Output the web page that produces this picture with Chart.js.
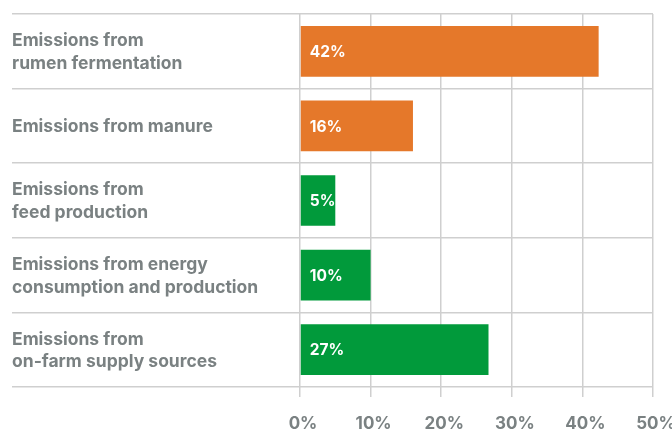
<!DOCTYPE html>
<html>
<head>
<meta charset="utf-8">
<script src="https://cdn.jsdelivr.net/npm/chart.js@4.4.1/dist/chart.umd.min.js"></script>
<style>
  html, body { margin: 0; padding: 0; background: #ffffff; }
  #wrap { width: 672px; height: 430px; position: relative; }
</style>
</head>
<body>
<div id="wrap"><canvas id="c"></canvas></div>
<script>
const categories = [
  ["Emissions from", "rumen fermentation"],
  "Emissions from manure",
  ["Emissions from", "feed production"],
  ["Emissions from energy", "consumption and production"],
  ["Emissions from", "on-farm supply sources"]
];
const shares = [42.3, 16, 5, 10, 26.7];
const valueLabels = ["42%", "16%", "5%", "10%", "27%"];
const barColors = ["#E5782A", "#E5782A", "#019A3B", "#019A3B", "#019A3B"];
const xTicks = [0, 10, 20, 30, 40, 50];

const GRAY = "#7a8182";
const GRID = "#cfcfcf";
const FONT = "Inter, 'DejaVu Sans', sans-serif";

const valueLabelPlugin = {
  id: "valueLabels",
  afterDatasetsDraw(chart) {
    const ctx = chart.ctx;
    const meta = chart.getDatasetMeta(0);
    ctx.save();
    ctx.font = "700 15.5px " + FONT;
    ctx.fillStyle = "#ffffff";
    ctx.textAlign = "left";
    ctx.textBaseline = "middle";
    meta.data.forEach((bar, i) => {
      const left = Math.min(bar.x, bar.base);
      ctx.fillText(valueLabels[i], left + 9, bar.y + 1);
    });
    ctx.restore();
  }
};

new Chart(document.getElementById("c"), {
  type: "bar",
  data: {
    labels: categories,
    datasets: [{
      data: shares,
      backgroundColor: barColors,
      borderWidth: 0,
      categoryPercentage: 1,
      barPercentage: 0.68
    }]
  },
  plugins: [valueLabelPlugin],
  options: {
    indexAxis: "y",
    responsive: true,
    maintainAspectRatio: false,
    animation: false,
    layout: { padding: { left: 12, top: 14, right: 19, bottom: 0 } },
    plugins: { legend: { display: false }, tooltip: { enabled: false } },
    scales: {
      x: {
        min: 0,
        max: 50,
        afterBuildTicks: (s) => { s.ticks = xTicks.map(v => ({ value: v })); },
        afterFit: (s) => { s.height = 43; s.paddingLeft = 0; s.paddingRight = 0; },
        grid: { color: GRID, lineWidth: 1.5, drawTicks: true, tickLength: 10 },
        border: { display: false },
        ticks: {
          color: GRAY,
          padding: 17,
          labelOffset: 3,
          font: { family: FONT, size: 17, weight: "700" },
          callback: (v) => v + "%"
        }
      },
      y: {
        afterFit: (s) => { s.width = 288; s.paddingTop = 0; s.paddingBottom = 0; },
        grid: { color: GRID, lineWidth: 1.5, offset: true, drawTicks: true, tickLength: 288 },
        border: { display: false },
        ticks: {
          color: GRAY,
          crossAlign: "far",
          padding: 0,
          labelOffset: 1,
          font: { family: FONT, size: 17.5, weight: "700", lineHeight: 1.3 }
        }
      }
    }
  }
});
</script>
</body>
</html>
